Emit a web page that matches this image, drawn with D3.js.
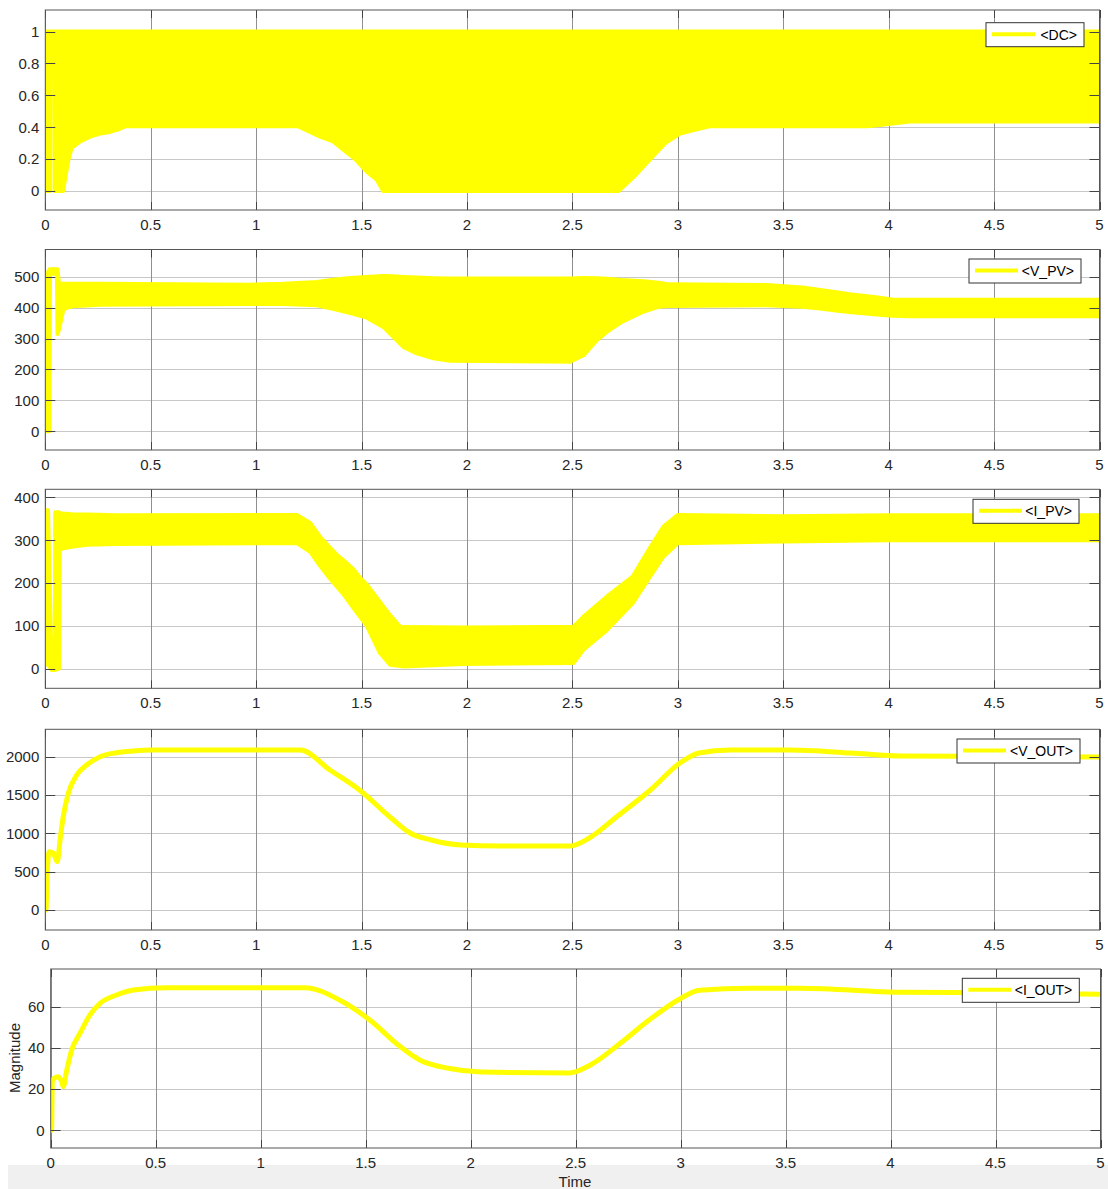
<!DOCTYPE html>
<html><head><meta charset="utf-8">
<script src="https://cdn.jsdelivr.net/npm/d3@7"></script>
<style>
body{margin:0;background:#fff}
svg{display:block}
text{font-family:"Liberation Sans",Arial,Helvetica,sans-serif}
</style>
</head><body>
<svg id="c" width="1108" height="1189"></svg>
<script>
// ---------- data ----------
const xTicks = [0, 0.5, 1, 1.5, 2, 2.5, 3, 3.5, 4, 4.5, 5];
const xTickLabels = ["0", "0.5", "1", "1.5", "2", "2.5", "3", "3.5", "4", "4.5", "5"];

// DC (duty cycle) envelope
const dcT  = [0, 0.022, 0.024, 0.042, 0.044, 0.085, 0.093, 0.109, 0.125, 0.165, 0.212, 0.26, 0.307, 0.354, 0.378, 1.2, 1.256, 1.303, 1.365, 1.412, 1.469, 1.525, 1.572, 1.603, 2.72, 2.8, 2.87, 2.94, 3.01, 3.1, 3.15, 3.9, 4.0, 4.1, 5.0];
const dcLo = [0, 0, 1, 1, 0, 0, 0.07, 0.19, 0.27, 0.31, 0.34, 0.36, 0.37, 0.39, 0.405, 0.405, 0.37, 0.34, 0.31, 0.26, 0.2, 0.12, 0.07, 0, 0, 0.1, 0.2, 0.3, 0.36, 0.39, 0.405, 0.405, 0.42, 0.435, 0.435];
const dcHi = [1, 1, 1, 1, 1, 1, 1, 1, 1, 1, 1, 1, 1, 1, 1, 1, 1, 1, 1, 1, 1, 1, 1, 1, 1, 1, 1, 1, 1, 1, 1, 1, 1, 1, 1];

// V_PV envelope
const vpvT  = [0, 0.02, 0.022, 0.055, 0.058, 0.065, 0.085, 0.1, 0.13, 0.26, 0.97, 1.128, 1.287, 1.365, 1.447, 1.525, 1.603, 1.651, 1.698, 1.762, 1.841, 1.92, 2.39, 2.489, 2.552, 2.616, 2.663, 2.736, 2.838, 2.907, 2.958, 3.419, 3.59, 3.675, 3.76, 3.813, 3.93, 4.017, 4.1, 5];
const vpvHi = [500, 525, 525, 525, 525, 478, 478, 478, 478, 478, 475, 478, 484, 491, 497, 500, 503, 502, 500, 498, 496, 495, 495, 495, 497, 496, 494, 490, 486, 481, 476, 474, 466, 458, 450, 444, 435, 427, 426, 426];
const vpvLo = [0, 0, 510, 510, 315, 330, 392, 400, 405, 410, 412, 412, 408, 397, 383, 368, 338, 306, 273, 252, 236, 228, 226, 225, 246, 295, 322, 355, 388, 403, 406, 408, 403, 398, 390, 386, 379, 374, 373, 373];

// I_PV envelope
const ipvT  = [0, 0.013, 0.03, 0.046, 0.047, 0.065, 0.068, 0.085, 0.133, 0.197, 0.34, 1.193, 1.256, 1.303, 1.351, 1.382, 1.414, 1.461, 1.493, 1.525, 1.588, 1.603, 1.635, 1.683, 1.698, 1.983, 2.505, 2.552, 2.663, 2.786, 2.868, 2.932, 3.0, 3.5, 4.0, 5];
const ipvHi = [370, 370, 5, 5, 365, 365, 363, 362, 360, 360, 358, 359, 340, 308, 282, 266, 253, 232, 212, 196, 155, 145, 125, 98, 97, 96, 98, 121, 168, 215, 282, 332, 359, 356, 358, 358];
const ipvLo = [10, 10, -3, -3, -3, 0, 277, 281, 285, 289, 291, 293, 273, 240, 210, 192, 174, 142, 121, 100, 36, 28, 9, 6, 5, 11, 13, 44, 90, 153, 215, 262, 293, 297, 300, 300];

// V_OUT
const voutT = [0, 0.003, 0.009, 0.019, 0.038, 0.057, 0.07, 0.085, 0.109, 0.149, 0.196, 0.26, 0.339, 0.417, 0.497, 1.21, 1.35, 1.49, 1.64, 1.73, 1.83, 1.97, 2.16, 2.49, 2.58, 2.72, 2.87, 3.01, 3.1, 3.25, 3.53, 3.82, 4.06, 5];
const voutV = [0, 0, 479, 760, 740, 630, 913, 1217, 1522, 1761, 1891, 2000, 2052, 2074, 2087, 2087, 1826, 1565, 1200, 1004, 913, 848, 835, 835, 939, 1239, 1565, 1917, 2048, 2087, 2087, 2048, 2008, 1996];

// I_OUT
const ioutT = [0, 0.004, 0.008, 0.036, 0.052, 0.06, 0.076, 0.1, 0.139, 0.187, 0.235, 0.314, 0.394, 0.552, 1.21, 1.38, 1.52, 1.66, 1.76, 1.9, 2.05, 2.47, 2.57, 2.71, 2.85, 3.0, 3.09, 3.33, 3.57, 4.05, 4.52, 5];
const ioutV = [0, 0, 24.4, 26, 23.6, 21.2, 29, 39, 47, 56, 61.6, 65.7, 68.1, 69.2, 69.2, 63, 53.5, 41, 34, 30, 28.3, 27.8, 31.7, 42, 53.5, 64, 68, 69, 69, 67, 66.7, 66];

const dcTicks = [0, 0.2, 0.4, 0.6, 0.8, 1];
const dcTickLabels = ["0", "0.2", "0.4", "0.6", "0.8", "1"];
const vpvTicks = [0, 100, 200, 300, 400, 500];
const ipvTicks = [0, 100, 200, 300, 400];
const voutTicks = [0, 500, 1000, 1500, 2000];
const ioutTicks = [0, 20, 40, 60];

const legendNames = ["<DC>", "<V_PV>", "<I_PV>", "<V_OUT>", "<I_OUT>"];

// ---------- layout ----------
const svg = d3.select("#c");
const YELLOW = "#ffff00";

// bottom gray strip
svg.append("rect").attr("x", 8).attr("y", 1165).attr("width", 1100).attr("height", 24).attr("fill", "#f0f0f0");

const panels = [
  {type: "band", t: dcT, lo: dcLo, hi: dcHi, top: 10, bottom: 210, left: 45.3, right: 1099.5, dom: [-0.12, 1.135], ticks: dcTicks, labels: dcTickLabels, leg: {x: 986, y: 22.7, w: 98}},
  {type: "band", t: vpvT, lo: vpvLo, hi: vpvHi, top: 249.5, bottom: 450, left: 45.3, right: 1099.5, dom: [-61, 589], ticks: vpvTicks, leg: {x: 969, y: 259, w: 112}},
  {type: "band", t: ipvT, lo: ipvLo, hi: ipvHi, top: 489.3, bottom: 688.3, left: 45.3, right: 1099.5, dom: [-45.8, 418.7], ticks: ipvTicks, leg: {x: 973, y: 499.3, w: 106}},
  {type: "line", t: voutT, v: voutV, top: 729.3, bottom: 930, left: 45.3, right: 1099.5, dom: [-261, 2357], ticks: voutTicks, leg: {x: 957, y: 739, w: 123}},
  {type: "line", t: ioutT, v: ioutV, top: 969, bottom: 1148, left: 50.7, right: 1100.5, dom: [-8.6, 78.3], ticks: ioutTicks, leg: {x: 962.3, y: 978.3, w: 117}}
];

panels.forEach((p, i) => {
  const x = d3.scaleLinear().domain([0, 5]).range([p.left, p.right]);
  const y = d3.scaleLinear().domain(p.dom).range([p.bottom, p.top]);
  const g = svg.append("g");
  const clipId = "clip" + i;
  svg.append("clipPath").attr("id", clipId).append("rect")
    .attr("x", p.left).attr("y", p.top).attr("width", p.right - p.left).attr("height", p.bottom - p.top);

  // grid
  g.append("g").selectAll("line").data(p.ticks).join("line")
    .attr("x1", p.left).attr("x2", p.right)
    .attr("y1", d => Math.round(y(d)) + 0.5).attr("y2", d => Math.round(y(d)) + 0.5)
    .attr("stroke", "#c8c8c8").attr("stroke-width", 1);
  g.append("g").selectAll("line").data(xTicks).join("line")
    .attr("y1", p.top).attr("y2", p.bottom)
    .attr("x1", d => Math.round(x(d)) + 0.5).attr("x2", d => Math.round(x(d)) + 0.5)
    .attr("stroke", "#909090").attr("stroke-width", 1);

  // data
  const dg = g.append("g").attr("clip-path", `url(#${clipId})`);
  if (p.type === "band") {
    const rows = p.t.map((t, k) => ({t, lo: p.lo[k], hi: p.hi[k]}));
    const area = d3.area().x(d => x(d.t)).y0(d => y(d.lo)).y1(d => y(d.hi));
    dg.append("path").datum(rows).attr("d", area)
      .attr("fill", YELLOW).attr("stroke", YELLOW).attr("stroke-width", 4).attr("stroke-linejoin", "round");
  } else {
    const rows = p.t.map((t, k) => ({t, v: p.v[k]}));
    const line = d3.line().x(d => x(d.t)).y(d => y(d.v)).curve(d3.curveMonotoneX);
    dg.append("path").datum(rows).attr("d", line)
      .attr("fill", "none").attr("stroke", YELLOW).attr("stroke-width", 5).attr("stroke-linejoin", "round");
  }

  // ticks (inward, on all sides)
  const tk = g.append("g").attr("stroke", "#444").attr("stroke-width", 1);
  p.ticks.forEach(d => {
    const yy = Math.round(y(d)) + 0.5;
    tk.append("line").attr("x1", p.left).attr("x2", p.left + 10).attr("y1", yy).attr("y2", yy);
    tk.append("line").attr("x1", p.right - 10).attr("x2", p.right).attr("y1", yy).attr("y2", yy);
  });
  xTicks.forEach(d => {
    const xx = Math.round(x(d)) + 0.5;
    tk.append("line").attr("x1", xx).attr("x2", xx).attr("y1", p.top).attr("y2", p.top + 8);
    tk.append("line").attr("x1", xx).attr("x2", xx).attr("y1", p.bottom - 8).attr("y2", p.bottom);
  });

  // box
  g.append("rect").attr("x", p.left).attr("y", p.top).attr("width", p.right - p.left).attr("height", p.bottom - p.top)
    .attr("fill", "none").attr("stroke", "#555").attr("stroke-width", 1);

  // tick labels
  g.append("g").selectAll("text").data(p.ticks).join("text")
    .attr("x", p.left - 6).attr("y", d => y(d)).attr("dy", "0.36em")
    .attr("text-anchor", "end").attr("font-size", 15).attr("fill", "#262626")
    .text((d, k) => p.labels ? p.labels[k] : String(d));
  g.append("g").selectAll("text").data(xTicks).join("text")
    .attr("x", d => x(d)).attr("y", p.bottom + 20)
    .attr("text-anchor", "middle").attr("font-size", 15).attr("fill", "#262626")
    .text((d, k) => xTickLabels[k]);

  // legend
  const L = p.leg;
  const lg = g.append("g");
  lg.append("rect").attr("x", L.x).attr("y", L.y).attr("width", L.w).attr("height", 24)
    .attr("fill", "#fff").attr("stroke", "#333").attr("stroke-width", 1);
  lg.append("line").attr("x1", L.x + 6).attr("x2", L.x + 49).attr("y1", L.y + 11.5).attr("y2", L.y + 11.5)
    .attr("stroke", YELLOW).attr("stroke-width", 4);
  lg.append("text").attr("x", L.x + L.w - 7).attr("y", L.y + 12).attr("dy", "0.36em")
    .attr("text-anchor", "end").attr("font-size", 14).attr("fill", "#000").text(legendNames[i]);
});

// axis titles
svg.append("text").attr("x", 575).attr("y", 1187).attr("text-anchor", "middle")
  .attr("font-size", 15).attr("fill", "#262626").text("Time");
svg.append("text").attr("transform", "translate(20,1058) rotate(-90)").attr("text-anchor", "middle")
  .attr("font-size", 15).attr("fill", "#262626").text("Magnitude");
</script>
</body></html>
